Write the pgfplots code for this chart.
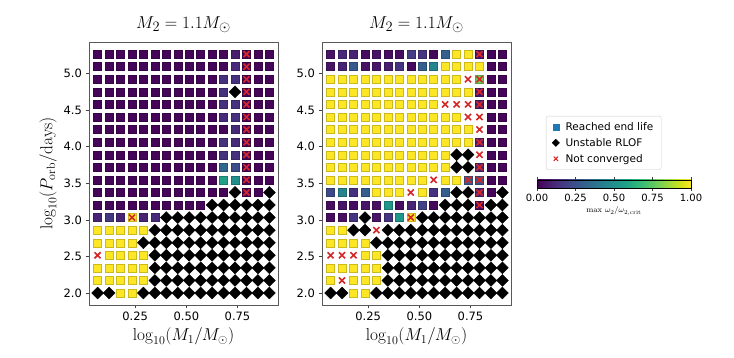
\documentclass[border=0pt]{standalone}
\usepackage[no-math]{fontspec}
\setmainfont{DejaVu Sans}
\usepackage{pgfplots}
\pgfplotsset{compat=1.18}
\definecolor{tabred}{HTML}{D62728}
\definecolor{tabblue}{HTML}{1F77B4}
\pgfplotsset{
  panel/.style={
    scale only axis, width=189pt, height=263pt,
    xmin=0.024, xmax=0.948, ymin=1.836, ymax=5.434,
    xtick={0.25,0.5,0.75}, xticklabels={0.25,0.50,0.75},
    ytick={2,2.5,3,3.5,4,4.5,5}, yticklabels={2.0,2.5,3.0,3.5,4.0,4.5,5.0},
    tick align=outside, tick pos=left, major tick length=3.5pt,
    axis line style={black!65, line width=0.8pt},
    every tick/.style={black!75, line width=0.8pt},
    ticklabel style={font=\fontsize{11.5}{13}\selectfont},
    colormap/viridis, point meta min=0, point meta max=1,
    title style={font=\fontsize{19}{22}\selectfont},
    label style={font=\fontsize{17.5}{20}\selectfont},
    xlabel={$\log_{10}(M_1/M_\odot)$},
    title={$M_2 = 1.1 M_\odot$},
  },
  sq/.style={scatter, only marks, mark=square*, mark size=4pt, point meta=explicit, forget plot},
  dm/.style={only marks, mark=square*, mark size=4.2pt, mark options={rotate=45}, black, forget plot},
  xx/.style={only marks, mark=x, mark size=4.3pt, tabred, line width=1.6pt, forget plot},
}
\begin{document}
\begin{tikzpicture}
\useasboundingbox (0,0) rectangle (734pt,358pt);
% ---------------- left panel ----------------
\begin{axis}[panel, at={(89pt,53pt)}, anchor=south west,
    ylabel={$\log_{10}(P_{\mathrm{orb}}/\mathrm{days})$}]
\addplot[sq] coordinates {
(0.066,5.268)[0.01] (0.122,5.268)[0.01] (0.178,5.268)[0.01] (0.234,5.268)[0.01] (0.290,5.268)[0.01] (0.346,5.268)[0.01] (0.402,5.268)[0.01] (0.458,5.268)[0.01] (0.514,5.268)[0.01] (0.570,5.268)[0.01] (0.626,5.268)[0.01] (0.682,5.268)[0.01] (0.738,5.268)[0.08] (0.794,5.268)[0.01] (0.850,5.268)[0.01] (0.906,5.268)[0.01]
(0.066,5.096)[0.01] (0.122,5.096)[0.01] (0.178,5.096)[0.01] (0.234,5.096)[0.01] (0.290,5.096)[0.01] (0.346,5.096)[0.01] (0.402,5.096)[0.01] (0.458,5.096)[0.01] (0.514,5.096)[0.01] (0.570,5.096)[0.01] (0.626,5.096)[0.01] (0.682,5.096)[0.01] (0.738,5.096)[0.12] (0.794,5.096)[0.01] (0.850,5.096)[0.01] (0.906,5.096)[0.01]
(0.066,4.924)[0.01] (0.122,4.924)[0.01] (0.178,4.924)[0.01] (0.234,4.924)[0.01] (0.290,4.924)[0.01] (0.346,4.924)[0.01] (0.402,4.924)[0.01] (0.458,4.924)[0.01] (0.514,4.924)[0.01] (0.570,4.924)[0.01] (0.626,4.924)[0.01] (0.682,4.924)[0.14] (0.738,4.924)[0.14] (0.794,4.924)[0.01] (0.850,4.924)[0.01] (0.906,4.924)[0.01]
(0.066,4.752)[0.01] (0.122,4.752)[0.01] (0.178,4.752)[0.01] (0.234,4.752)[0.01] (0.290,4.752)[0.01] (0.346,4.752)[0.01] (0.402,4.752)[0.01] (0.458,4.752)[0.01] (0.514,4.752)[0.01] (0.570,4.752)[0.01] (0.626,4.752)[0.01] (0.682,4.752)[0.14] (0.794,4.752)[0.01] (0.850,4.752)[0.01] (0.906,4.752)[0.01]
(0.066,4.580)[0.01] (0.122,4.580)[0.01] (0.178,4.580)[0.01] (0.234,4.580)[0.01] (0.290,4.580)[0.01] (0.346,4.580)[0.01] (0.402,4.580)[0.01] (0.458,4.580)[0.01] (0.514,4.580)[0.01] (0.570,4.580)[0.01] (0.626,4.580)[0.01] (0.682,4.580)[0.14] (0.738,4.580)[0.14] (0.794,4.580)[0.01] (0.850,4.580)[0.01] (0.906,4.580)[0.01]
(0.066,4.408)[0.01] (0.122,4.408)[0.01] (0.178,4.408)[0.01] (0.234,4.408)[0.01] (0.290,4.408)[0.01] (0.346,4.408)[0.01] (0.402,4.408)[0.01] (0.458,4.408)[0.01] (0.514,4.408)[0.01] (0.570,4.408)[0.01] (0.626,4.408)[0.01] (0.682,4.408)[0.12] (0.738,4.408)[0.14] (0.794,4.408)[0.01] (0.850,4.408)[0.01] (0.906,4.408)[0.01]
(0.066,4.236)[0.01] (0.122,4.236)[0.01] (0.178,4.236)[0.01] (0.234,4.236)[0.01] (0.290,4.236)[0.01] (0.346,4.236)[0.01] (0.402,4.236)[0.01] (0.458,4.236)[0.01] (0.514,4.236)[0.01] (0.570,4.236)[0.01] (0.626,4.236)[0.01] (0.682,4.236)[0.01] (0.738,4.236)[0.12] (0.794,4.236)[0.01] (0.850,4.236)[0.01] (0.906,4.236)[0.01]
(0.066,4.064)[0.01] (0.122,4.064)[0.01] (0.178,4.064)[0.01] (0.234,4.064)[0.01] (0.290,4.064)[0.01] (0.346,4.064)[0.01] (0.402,4.064)[0.01] (0.458,4.064)[0.01] (0.514,4.064)[0.01] (0.570,4.064)[0.01] (0.626,4.064)[0.01] (0.682,4.064)[0.14] (0.738,4.064)[0.12] (0.794,4.064)[0.01] (0.850,4.064)[0.01] (0.906,4.064)[0.01]
(0.066,3.892)[0.01] (0.122,3.892)[0.01] (0.178,3.892)[0.01] (0.234,3.892)[0.01] (0.290,3.892)[0.01] (0.346,3.892)[0.01] (0.402,3.892)[0.01] (0.458,3.892)[0.01] (0.514,3.892)[0.01] (0.570,3.892)[0.01] (0.626,3.892)[0.01] (0.682,3.892)[0.14] (0.738,3.892)[0.14] (0.794,3.892)[0.01] (0.850,3.892)[0.01] (0.906,3.892)[0.01]
(0.066,3.720)[0.01] (0.122,3.720)[0.01] (0.178,3.720)[0.01] (0.234,3.720)[0.01] (0.290,3.720)[0.01] (0.346,3.720)[0.01] (0.402,3.720)[0.01] (0.458,3.720)[0.01] (0.514,3.720)[0.01] (0.570,3.720)[0.01] (0.626,3.720)[0.01] (0.682,3.720)[0.33] (0.738,3.720)[0.23] (0.794,3.720)[0.01] (0.850,3.720)[0.01] (0.906,3.720)[0.01]
(0.066,3.548)[0.01] (0.122,3.548)[0.01] (0.178,3.548)[0.01] (0.234,3.548)[0.01] (0.290,3.548)[0.01] (0.346,3.548)[0.01] (0.402,3.548)[0.01] (0.458,3.548)[0.01] (0.514,3.548)[0.01] (0.570,3.548)[0.01] (0.626,3.548)[0.01] (0.682,3.548)[0.57] (0.738,3.548)[0.50] (0.794,3.548)[0.01] (0.850,3.548)[0.01] (0.906,3.548)[0.01]
(0.066,3.376)[0.01] (0.122,3.376)[0.01] (0.178,3.376)[0.01] (0.234,3.376)[0.01] (0.290,3.376)[0.01] (0.346,3.376)[0.01] (0.402,3.376)[0.01] (0.458,3.376)[0.01] (0.514,3.376)[0.01] (0.570,3.376)[0.01] (0.626,3.376)[0.01] (0.682,3.376)[0.01] (0.794,3.376)[0.01] (0.850,3.376)[0.01]
(0.066,3.204)[0.01] (0.122,3.204)[0.01] (0.178,3.204)[0.01] (0.234,3.204)[0.01] (0.290,3.204)[0.01] (0.346,3.204)[0.01] (0.402,3.204)[0.01] (0.458,3.204)[0.01] (0.514,3.204)[0.01] (0.570,3.204)[0.01]
(0.066,3.032)[0.10] (0.122,3.032)[0.16] (0.178,3.032)[0.10] (0.234,3.032)[1] (0.290,3.032)[0.10] (0.346,3.032)[0.12]
(0.066,2.860)[1] (0.122,2.860)[1] (0.178,2.860)[1] (0.234,2.860)[1] (0.290,2.860)[1]
(0.066,2.688)[1] (0.122,2.688)[1] (0.178,2.688)[1] (0.234,2.688)[1]
(0.122,2.516)[1] (0.178,2.516)[1] (0.234,2.516)[1] (0.290,2.516)[1]
(0.066,2.344)[1] (0.122,2.344)[1] (0.178,2.344)[1] (0.234,2.344)[1] (0.290,2.344)[1]
(0.066,2.172)[1] (0.122,2.172)[1] (0.178,2.172)[1] (0.234,2.172)[1] (0.290,2.172)[1]
(0.178,2.000)[1] (0.234,2.000)[1]
};
\addplot[dm] coordinates {
(0.066,2.000) (0.122,2.000) (0.290,2.000) (0.346,2.000) (0.402,2.000) (0.458,2.000) (0.514,2.000) (0.570,2.000) (0.626,2.000) (0.682,2.000) (0.738,2.000) (0.794,2.000) (0.850,2.000) (0.906,2.000)
(0.346,2.172) (0.402,2.172) (0.458,2.172) (0.514,2.172) (0.570,2.172) (0.626,2.172) (0.682,2.172) (0.738,2.172) (0.794,2.172) (0.850,2.172) (0.906,2.172)
(0.346,2.344) (0.402,2.344) (0.458,2.344) (0.514,2.344) (0.570,2.344) (0.626,2.344) (0.682,2.344) (0.738,2.344) (0.794,2.344) (0.850,2.344) (0.906,2.344)
(0.346,2.516) (0.402,2.516) (0.458,2.516) (0.514,2.516) (0.570,2.516) (0.626,2.516) (0.682,2.516) (0.738,2.516) (0.794,2.516) (0.850,2.516) (0.906,2.516)
(0.290,2.688) (0.346,2.688) (0.402,2.688) (0.458,2.688) (0.514,2.688) (0.570,2.688) (0.626,2.688) (0.682,2.688) (0.738,2.688) (0.794,2.688) (0.850,2.688) (0.906,2.688)
(0.346,2.860) (0.402,2.860) (0.458,2.860) (0.514,2.860) (0.570,2.860) (0.626,2.860) (0.682,2.860) (0.738,2.860) (0.794,2.860) (0.850,2.860) (0.906,2.860)
(0.402,3.032) (0.458,3.032) (0.514,3.032) (0.570,3.032) (0.626,3.032) (0.682,3.032) (0.738,3.032) (0.794,3.032) (0.850,3.032) (0.906,3.032)
(0.626,3.204) (0.682,3.204) (0.738,3.204) (0.794,3.204) (0.850,3.204) (0.906,3.204)
(0.738,3.376) (0.906,3.376) (0.738,4.752)
};
\addplot[xx] coordinates {
(0.794,3.376) (0.794,3.548) (0.794,3.720) (0.794,3.892) (0.794,4.064) (0.794,4.236)
(0.794,4.408) (0.794,4.580) (0.794,4.752) (0.794,4.924) (0.794,5.096) (0.794,5.268)
(0.234,3.032) (0.066,2.516)
};
\end{axis}
% ---------------- right panel ----------------
\begin{axis}[panel, at={(322pt,53pt)}, anchor=south west,
    colorbar horizontal,
    colorbar shift/.style={},
    colorbar style={
      at={(parent axis.east)}, anchor=north west, xshift=26pt, yshift=-6.5pt,
      scale only axis, width=154pt, height=8pt,
      xtick={0,0.25,0.5,0.75,1}, xticklabels={0.00,0.25,0.50,0.75,1.00},
      tick align=outside, major tick length=3pt,
      ticklabel style={font=\fontsize{10}{12}\selectfont},
      xlabel={$\max\,\omega_2/\omega_{2,\mathrm{crit}}$},
      xlabel style={font=\fontsize{8}{10}\selectfont, yshift=2pt},
      axis line style={black, line width=0.6pt},
    },
    legend style={at={(1.185,0.719)}, anchor=north west, draw=black!20,
      rounded corners=2pt, font=\fontsize{10.5}{13}\selectfont,
      row sep=2.5pt, inner xsep=6pt, inner ysep=4pt,
      /tikz/every odd column/.append style={column sep=4pt}},
    legend cell align=left]
\addlegendimage{only marks, mark=square*, tabblue, mark size=3pt}
\addlegendentry{Reached end life}
\addlegendimage{only marks, mark=square*, mark options={rotate=45}, black, mark size=2.6pt}
\addlegendentry{Unstable RLOF}
\addlegendimage{only marks, mark=x, tabred, mark size=3pt, line width=1pt}
\addlegendentry{Not converged}
\addplot[sq] coordinates {
(0.066,5.268)[0.05] (0.122,5.268)[0.12] (0.178,5.268)[0.10] (0.234,5.268)[0.03] (0.290,5.268)[0.05] (0.346,5.268)[0.03] (0.402,5.268)[0.03] (0.458,5.268)[0.18] (0.514,5.268)[0.15] (0.570,5.268)[0.02] (0.626,5.268)[0.30] (0.682,5.268)[1] (0.738,5.268)[1] (0.794,5.268)[0.05] (0.850,5.268)[0.01] (0.906,5.268)[0.01]
(0.066,5.096)[0.05] (0.122,5.096)[0.10] (0.178,5.096)[0.28] (0.234,5.096)[0.05] (0.290,5.096)[0.06] (0.346,5.096)[0.08] (0.402,5.096)[0.15] (0.458,5.096)[0.02] (0.514,5.096)[0.30] (0.570,5.096)[0.45] (0.626,5.096)[1] (0.682,5.096)[1] (0.738,5.096)[1] (0.794,5.096)[1] (0.850,5.096)[0.01] (0.906,5.096)[0.01]
(0.066,4.924)[1] (0.122,4.924)[1] (0.178,4.924)[1] (0.234,4.924)[1] (0.290,4.924)[1] (0.346,4.924)[1] (0.402,4.924)[1] (0.458,4.924)[1] (0.514,4.924)[1] (0.570,4.924)[1] (0.626,4.924)[1] (0.682,4.924)[1] (0.794,4.924)[0.78] (0.850,4.924)[0.01] (0.906,4.924)[0.01]
(0.066,4.752)[1] (0.122,4.752)[1] (0.178,4.752)[1] (0.234,4.752)[1] (0.290,4.752)[1] (0.346,4.752)[1] (0.402,4.752)[1] (0.458,4.752)[1] (0.514,4.752)[1] (0.570,4.752)[1] (0.626,4.752)[1] (0.682,4.752)[1] (0.738,4.752)[1] (0.794,4.752)[0.05] (0.850,4.752)[0.01] (0.906,4.752)[0.01]
(0.066,4.580)[1] (0.122,4.580)[1] (0.178,4.580)[1] (0.234,4.580)[1] (0.290,4.580)[1] (0.346,4.580)[1] (0.402,4.580)[1] (0.458,4.580)[1] (0.514,4.580)[1] (0.570,4.580)[1] (0.794,4.580)[0.08] (0.850,4.580)[0.01] (0.906,4.580)[0.01]
(0.066,4.408)[1] (0.122,4.408)[1] (0.178,4.408)[1] (0.234,4.408)[1] (0.290,4.408)[1] (0.346,4.408)[1] (0.402,4.408)[1] (0.458,4.408)[1] (0.514,4.408)[1] (0.570,4.408)[1] (0.626,4.408)[1] (0.682,4.408)[1] (0.850,4.408)[0.01] (0.906,4.408)[0.01]
(0.066,4.236)[1] (0.122,4.236)[1] (0.178,4.236)[1] (0.234,4.236)[1] (0.290,4.236)[1] (0.346,4.236)[1] (0.402,4.236)[1] (0.458,4.236)[1] (0.514,4.236)[1] (0.570,4.236)[1] (0.626,4.236)[1] (0.682,4.236)[1] (0.738,4.236)[1] (0.850,4.236)[0.01] (0.906,4.236)[0.01]
(0.066,4.064)[1] (0.122,4.064)[1] (0.178,4.064)[1] (0.234,4.064)[1] (0.290,4.064)[1] (0.346,4.064)[1] (0.402,4.064)[1] (0.458,4.064)[1] (0.514,4.064)[1] (0.570,4.064)[1] (0.626,4.064)[1] (0.682,4.064)[1] (0.738,4.064)[1] (0.794,4.064)[0.08] (0.850,4.064)[0.01] (0.906,4.064)[0.01]
(0.066,3.892)[1] (0.122,3.892)[1] (0.178,3.892)[1] (0.234,3.892)[1] (0.290,3.892)[1] (0.346,3.892)[1] (0.402,3.892)[1] (0.458,3.892)[1] (0.514,3.892)[1] (0.570,3.892)[1] (0.626,3.892)[1] (0.850,3.892)[0.01] (0.906,3.892)[0.01]
(0.066,3.720)[1] (0.122,3.720)[1] (0.178,3.720)[1] (0.234,3.720)[1] (0.290,3.720)[1] (0.346,3.720)[1] (0.402,3.720)[1] (0.458,3.720)[1] (0.514,3.720)[1] (0.570,3.720)[1] (0.626,3.720)[1] (0.794,3.720)[0.10] (0.850,3.720)[0.01] (0.906,3.720)[0.01]
(0.066,3.548)[1] (0.122,3.548)[1] (0.178,3.548)[1] (0.234,3.548)[1] (0.290,3.548)[1] (0.346,3.548)[1] (0.402,3.548)[1] (0.458,3.548)[1] (0.514,3.548)[1] (0.626,3.548)[1] (0.682,3.548)[1] (0.738,3.548)[0.28] (0.794,3.548)[0.25] (0.850,3.548)[0.01] (0.906,3.548)[0.01]
(0.066,3.376)[0.22] (0.122,3.376)[0.45] (0.178,3.376)[0.14] (0.234,3.376)[0.30] (0.290,3.376)[1] (0.346,3.376)[1] (0.402,3.376)[1] (0.514,3.376)[1] (0.570,3.376)[0.14] (0.626,3.376)[0.30] (0.794,3.376)[0.10] (0.850,3.376)[0.01]
(0.066,3.204)[0.03] (0.122,3.204)[0.05] (0.178,3.204)[0.03] (0.234,3.204)[0.06] (0.290,3.204)[0.04] (0.346,3.204)[0.53] (0.402,3.204)[0.03] (0.458,3.204)[0.10] (0.514,3.204)[0.20] (0.570,3.204)[0.02] (0.794,3.204)[0.02]
(0.066,3.032)[0.03] (0.122,3.032)[0.04] (0.178,3.032)[0.15] (0.290,3.032)[0.05] (0.346,3.032)[0.15] (0.402,3.032)[0.53] (0.458,3.032)[1]
(0.066,2.860)[1] (0.122,2.860)[1]
(0.066,2.688)[1] (0.122,2.688)[1] (0.178,2.688)[1] (0.234,2.688)[1]
(0.234,2.516)[1] (0.290,2.516)[1]
(0.066,2.344)[1] (0.122,2.344)[1] (0.178,2.344)[1] (0.234,2.344)[1] (0.290,2.344)[1]
(0.066,2.172)[1] (0.178,2.172)[1] (0.234,2.172)[1] (0.290,2.172)[1]
(0.178,2.000)[1] (0.234,2.000)[1]
};
\addplot[dm] coordinates {
(0.066,2.000) (0.122,2.000) (0.290,2.000) (0.346,2.000) (0.402,2.000) (0.458,2.000) (0.514,2.000) (0.570,2.000) (0.626,2.000) (0.682,2.000) (0.738,2.000) (0.794,2.000) (0.850,2.000) (0.906,2.000)
(0.346,2.172) (0.402,2.172) (0.458,2.172) (0.514,2.172) (0.570,2.172) (0.626,2.172) (0.682,2.172) (0.738,2.172) (0.794,2.172) (0.850,2.172) (0.906,2.172)
(0.346,2.344) (0.402,2.344) (0.458,2.344) (0.514,2.344) (0.570,2.344) (0.626,2.344) (0.682,2.344) (0.738,2.344) (0.794,2.344) (0.850,2.344) (0.906,2.344)
(0.346,2.516) (0.402,2.516) (0.458,2.516) (0.514,2.516) (0.570,2.516) (0.626,2.516) (0.682,2.516) (0.738,2.516) (0.794,2.516) (0.850,2.516) (0.906,2.516)
(0.290,2.688) (0.346,2.688) (0.402,2.688) (0.458,2.688) (0.514,2.688) (0.570,2.688) (0.626,2.688) (0.682,2.688) (0.738,2.688) (0.794,2.688) (0.850,2.688) (0.906,2.688)
(0.178,2.860) (0.234,2.860) (0.346,2.860) (0.402,2.860) (0.458,2.860) (0.514,2.860) (0.570,2.860) (0.626,2.860) (0.682,2.860) (0.738,2.860) (0.794,2.860) (0.850,2.860) (0.906,2.860)
(0.234,3.032) (0.514,3.032) (0.570,3.032) (0.626,3.032) (0.682,3.032) (0.738,3.032) (0.794,3.032) (0.850,3.032) (0.906,3.032)
(0.626,3.204) (0.682,3.204) (0.738,3.204) (0.850,3.204) (0.906,3.204)
(0.682,3.376) (0.738,3.376) (0.906,3.376)
(0.682,3.720) (0.738,3.720) (0.682,3.892) (0.738,3.892)
};
\addplot[xx] coordinates {
(0.794,5.268) (0.738,4.924) (0.794,4.924) (0.794,4.752)
(0.626,4.580) (0.682,4.580) (0.738,4.580) (0.794,4.580)
(0.738,4.408) (0.794,4.408) (0.794,4.236) (0.794,4.064) (0.794,3.892) (0.794,3.720)
(0.570,3.548) (0.738,3.548) (0.794,3.548) (0.458,3.376) (0.794,3.376) (0.794,3.204)
(0.458,3.032) (0.290,2.860) (0.066,2.516) (0.122,2.516) (0.178,2.516) (0.122,2.172)
};
\end{axis}
\end{tikzpicture}
\end{document}
